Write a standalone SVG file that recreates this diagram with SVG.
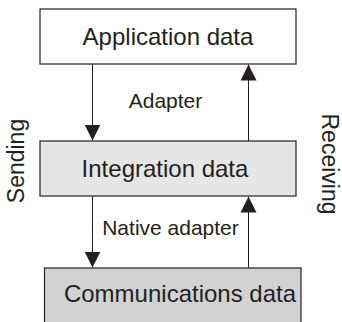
<svg xmlns="http://www.w3.org/2000/svg" width="342" height="322" viewBox="0 0 342 322">
<style>
.box{stroke:#231f20;stroke-width:1.2}
.lbl{font-family:"Liberation Sans",Arial,sans-serif;fill:#231f20}
.big{font-size:24px;text-anchor:middle}
.mid{font-size:21px;text-anchor:middle}
.side{font-size:23px;text-anchor:middle}
.conn{stroke:#231f20;stroke-width:1;fill:none}
</style>
<defs>
<marker id="ah" viewBox="0 0 16 18" markerWidth="16" markerHeight="18" refX="16" refY="9" orient="auto" markerUnits="userSpaceOnUse">
<path d="M0,1 L16,9 L0,17 z" fill="#231f20"/>
</marker>
</defs>
<rect width="342" height="322" fill="#fff"/>
<g id="application">
<rect class="box" x="40" y="9" width="256" height="55" fill="#fff"/>
<text class="lbl big" x="168" y="45">Application data</text>
</g>
<g id="integration">
<rect class="box" x="40" y="141" width="256" height="55" fill="#e6e6e6"/>
<text class="lbl big" x="165" y="176.5">Integration data</text>
</g>
<g id="communications">
<rect class="box" x="44.5" y="268" width="256.5" height="60" fill="#d2d2d2"/>
<text class="lbl big" x="180" y="302">Communications data</text>
</g>
<g id="connectors">
<line class="conn" x1="92.5" y1="64" x2="92.5" y2="140.5" marker-end="url(#ah)"/>
<line class="conn" x1="248.5" y1="141" x2="248.5" y2="64.5" marker-end="url(#ah)"/>
<line class="conn" x1="92.5" y1="196" x2="92.5" y2="267.5" marker-end="url(#ah)"/>
<line class="conn" x1="248.5" y1="268" x2="248.5" y2="196.5" marker-end="url(#ah)"/>
<text class="lbl mid" x="165.5" y="108">Adapter</text>
<text class="lbl mid" x="170.5" y="235">Native adapter</text>
</g>
<text class="lbl side" transform="translate(24,161) rotate(-90)">Sending</text>
<text class="lbl side" transform="translate(322,164) rotate(90)">Receiving</text>
</svg>
